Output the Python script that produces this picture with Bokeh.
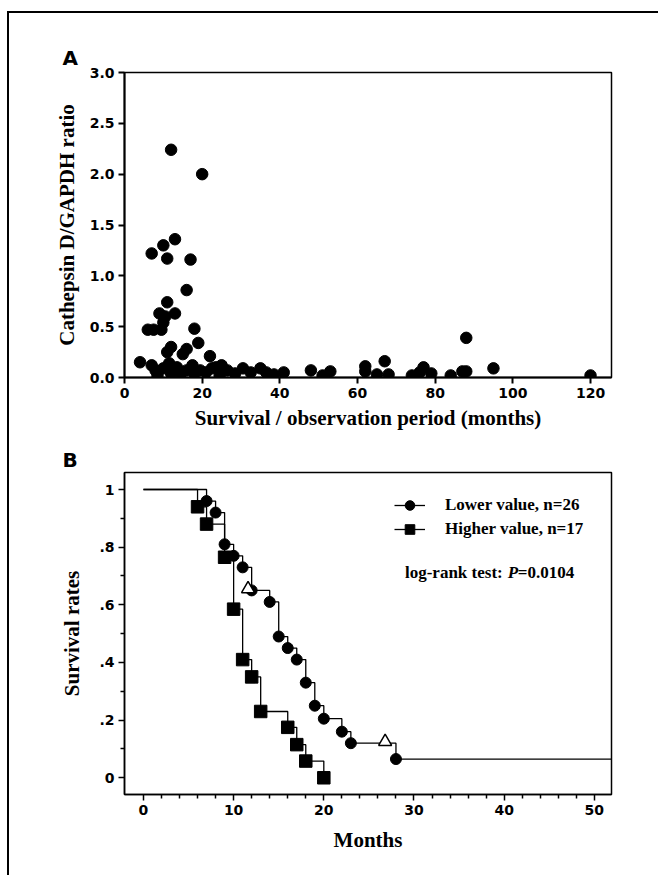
from bokeh.plotting import figure
from bokeh.layouts import column
from bokeh.models import (Range1d, FixedTicker, CustomJSTickFormatter, Legend,
                          LegendItem, Label)
from bokeh.embed import file_html
from bokeh.resources import INLINE

# ---------------- Panel A data ----------------
months = [12, 20, 13, 10, 7, 11, 17, 16, 11, 9, 13, 10.5, 10, 6, 7.5, 9.5, 18, 19,
          12, 16, 11, 15, 22, 4, 7, 8, 8.5, 10, 11.5, 12, 13.5, 14.5, 16, 17.5, 18,
          19.5, 21, 22.5, 23.5, 24.5, 25, 26.5, 28.5, 30.5, 32.5, 35, 36.5, 38.5, 41,
          48, 51, 53, 62, 62, 65, 67, 68, 74, 76, 77, 79, 84, 87, 88, 88, 95, 120]
ratio = [2.24, 2.00, 1.36, 1.30, 1.22, 1.17, 1.16, 0.86, 0.74, 0.63, 0.63, 0.60, 0.54,
         0.47, 0.47, 0.47, 0.48, 0.34, 0.30, 0.28, 0.25, 0.23, 0.21, 0.15, 0.12, 0.07,
         0.02, 0.09, 0.14, 0.04, 0.10, 0.04, 0.07, 0.12, 0.04, 0.07, 0.05, 0.09, 0.10,
         0.02, 0.12, 0.07, 0.04, 0.09, 0.05, 0.09, 0.05, 0.03, 0.05, 0.07, 0.02, 0.06,
         0.11, 0.06, 0.03, 0.16, 0.03, 0.02, 0.05, 0.10, 0.04, 0.02, 0.06, 0.06, 0.39,
         0.09, 0.02]
a_xticks = [0, 20, 40, 60, 80, 100, 120]
a_yticks = [0.0, 0.5, 1.0, 1.5, 2.0, 2.5, 3.0]

# ---------------- Panel B data ----------------
low_t = [0, 7, 8, 9, 10, 11, 12, 14, 15, 16, 17, 18, 19, 20, 22, 23, 28]
low_s = [1.0, 0.96, 0.92, 0.81, 0.77, 0.73, 0.65, 0.61, 0.49, 0.45, 0.41, 0.33,
         0.25, 0.205, 0.16, 0.12, 0.065]
low_followup_end = 53
low_cens_t = [11.6, 26.8]
low_cens_s = [0.655, 0.125]
high_t = [0, 6, 7, 9, 10, 11, 12, 13, 16, 17, 18, 20]
high_s = [1.0, 0.94, 0.88, 0.765, 0.585, 0.41, 0.35, 0.23, 0.175, 0.115, 0.058, 0.0]
b_xticks = [0, 10, 20, 30, 40, 50]
b_xminor = [2, 4, 6, 8, 12, 14, 16, 18, 22, 24, 26, 28, 32, 34, 36, 38, 42, 44, 46, 48]
b_yticks = [0, 0.2, 0.4, 0.6, 0.8, 1.0]
b_yminor = [0.1, 0.3, 0.5, 0.7, 0.9]

TICK_FONT = "DejaVu Sans"
LABEL_FONT = "Liberation Serif"


def style(p, lw=2):
    p.grid.visible = False
    p.outline_line_color = "black"
    p.outline_line_width = 1.5
    p.background_fill_color = "white"
    p.border_fill_color = "white"
    for ax in p.axis:
        ax.axis_line_width = lw
        ax.axis_line_color = "black"
        ax.major_tick_line_width = lw
        ax.major_tick_in = 0
        ax.major_tick_out = 6
        ax.minor_tick_in = 0
        ax.minor_tick_out = 4
        ax.minor_tick_line_width = 1.5
        ax.major_label_text_font = TICK_FONT
        ax.major_label_text_font_size = "14px"
        ax.major_label_text_font_style = "bold"
        ax.major_label_text_color = "black"
        ax.major_label_standoff = 4
        ax.axis_label_text_font = LABEL_FONT
        ax.axis_label_text_font_size = "21px"
        ax.axis_label_text_font_style = "bold"
        ax.axis_label_text_color = "black"
    p.title.text_font = TICK_FONT
    p.title.text_font_size = "20px"
    p.title.text_font_style = "bold"
    p.title.text_color = "black"
    p.title.align = "left"


# ---------------- Panel A ----------------
pA = figure(width=649, height=422, x_range=Range1d(0, 125.4), y_range=Range1d(0, 3.0),
            output_backend="svg", toolbar_location=None,
            min_border_left=115, min_border_right=40, min_border_top=59,
            min_border_bottom=58, title="A")
style(pA, lw=2)
pA.title.offset = -62
pA.title.standoff = 6
pA.scatter(months, ratio, size=11.5, color="black")
pA.xaxis.ticker = FixedTicker(ticks=a_xticks, minor_ticks=[])
pA.yaxis.ticker = FixedTicker(ticks=a_yticks, minor_ticks=[])
pA.yaxis.formatter = CustomJSTickFormatter(code="return tick.toFixed(1);")
pA.xaxis.axis_label = "Survival / observation period (months)"
pA.yaxis.axis_label = "Cathepsin D/GAPDH ratio"
pA.xaxis.axis_label_standoff = 5
pA.yaxis.axis_label_standoff = 8

# ---------------- Panel B ----------------
pB = figure(width=649, height=440, x_range=Range1d(-2.1, 51.9),
            y_range=Range1d(-0.058, 1.059),
            output_backend="svg", toolbar_location=None,
            min_border_left=115, min_border_right=47, min_border_top=37,
            min_border_bottom=81, title="B")
style(pB, lw=1.5)
pB.title.offset = -62
pB.title.standoff = 2

low_line = pB.step(low_t + [low_followup_end], low_s + [low_s[-1]], mode="after",
                   line_color="black", line_width=1.3)
high_line = pB.step(high_t, high_s, mode="after", line_color="black", line_width=1.3)
low_pts = pB.scatter(low_t[1:], low_s[1:], size=11, marker="circle", color="black")
high_pts = pB.scatter(high_t[1:], high_s[1:], size=12.5, marker="square", color="black")
pB.scatter(low_cens_t, low_cens_s, size=13, marker="triangle", fill_color="white",
           line_color="black", line_width=1.5)

pB.xaxis.ticker = FixedTicker(ticks=b_xticks, minor_ticks=b_xminor)
pB.yaxis.ticker = FixedTicker(ticks=b_yticks, minor_ticks=b_yminor)
pB.yaxis.formatter = CustomJSTickFormatter(
    code="if (tick === 0) return '0'; if (Math.abs(tick - 1) < 1e-9) return '1';"
         " return tick.toFixed(1).replace(/^0/, '');")
pB.xaxis.axis_label = "Months"
pB.yaxis.axis_label = "Survival rates"
pB.xaxis.axis_label_standoff = 10
pB.yaxis.axis_label_standoff = 12

legend = Legend(items=[LegendItem(label="Lower value, n=26", renderers=[low_line, low_pts]),
                       LegendItem(label="Higher value, n=17", renderers=[high_line, high_pts])],
                location=(270, 253), padding=0, margin=0, spacing=0,
                glyph_width=31, glyph_height=24, label_standoff=20,
                label_text_font=LABEL_FONT, label_text_font_size="17px",
                label_text_font_style="bold", label_text_color="black",
                border_line_color=None, background_fill_alpha=0)
pB.add_layout(legend, "center")

lab_font = dict(text_font=LABEL_FONT, text_font_size="17px", text_baseline="middle",
                text_color="black")
pB.add_layout(Label(x=29.0, y=0.713, text="log-rank test:", text_font_style="bold", **lab_font))
pB.add_layout(Label(x=40.4, y=0.713, text="P", text_font_style="bold italic", **lab_font))
pB.add_layout(Label(x=41.5, y=0.713, text="=0.0104", text_font_style="bold", **lab_font))

layout = column(pA, pB, spacing=0,
                styles={"border-top": "2px solid black", "border-left": "2px solid black",
                        "margin-left": "7px", "margin-top": "11px"})

open("out.html", "w").write(file_html(layout, INLINE))
